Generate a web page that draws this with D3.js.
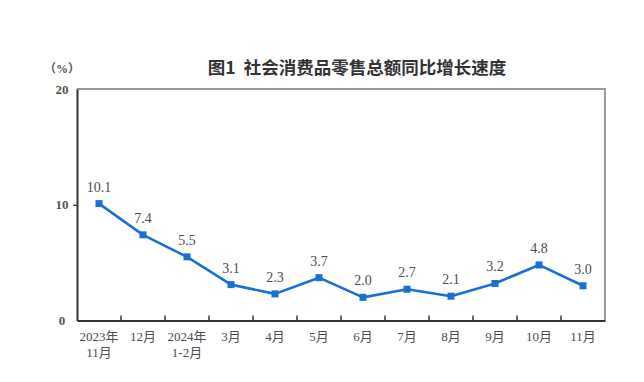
<!DOCTYPE html>
<html><head><meta charset="utf-8">
<script src="https://cdn.jsdelivr.net/npm/d3@7"></script>
<style>
body{margin:0;background:#fff;}
svg{display:block;}
</style></head>
<body>
<svg id="c" width="644" height="382"></svg>
<script>
const categories = ["2023年\n11月","12月","2024年\n1-2月","3月","4月","5月","6月","7月","8月","9月","10月","11月"];
const values = [10.1, 7.4, 5.5, 3.1, 2.3, 3.7, 2.0, 2.7, 2.1, 3.2, 4.8, 3.0];
const yTicks = [0, 10, 20];
const title = "图1  社会消费品零售总额同比增长速度";
const unit = "（%）";

const svg = d3.select("#c");
const L = 77, R = 605, T = 89, B = 320.5;
const x = d3.scaleBand().domain(categories).range([L, R]);
const y = d3.scaleLinear().domain([0, 20]).range([B, T]);
const serif = "'Liberation Serif','Times New Roman','Noto Sans CJK SC',serif";
const txtColor = "#555";

// frame (top/right grey)
svg.append("path")
  .attr("d", `M${L},${T}H${R}V${B}`)
  .attr("fill","none").attr("stroke","#9a9a9a").attr("stroke-width",2);

// left axis
const yAxis = d3.axisLeft(y).tickValues(yTicks).tickSize(4).tickSizeOuter(0).tickPadding(8);
const ya = svg.append("g").attr("transform",`translate(${L},0)`).call(yAxis);
ya.select(".domain").attr("stroke","#333").attr("stroke-width",2);
ya.selectAll(".tick line").attr("stroke","#333").attr("stroke-width",1.2)
  .filter(d => d===0 || d===20).remove();
ya.selectAll(".tick text").attr("font-family",serif).attr("font-size",13)
  .attr("font-weight","bold").attr("fill",txtColor).attr("text-anchor","middle").attr("x",-15);

// bottom axis
const xa = svg.append("g").attr("transform",`translate(0,${B})`)
  .call(d3.axisBottom(x).tickSize(0).tickSizeOuter(0).tickPadding(10));
xa.select(".domain").attr("stroke","#333").attr("stroke-width",2);
xa.selectAll(".tick text").remove();
xa.selectAll(".tick").each(function(d){
  const t = d3.select(this).append("text")
    .attr("font-family",serif).attr("font-size",13)
    .attr("fill","#4d4d4d").attr("text-anchor","middle").attr("y",20);
  d.split("\n").forEach((s,i)=>{
    t.append("tspan").attr("x",0).attr("dy", i===0?0:16).text(s);
  });
});
// inward tick marks at band boundaries
const bounds = categories.slice(1).map(c => x(c));
svg.append("g").selectAll("line").data(bounds).join("line")
  .attr("x1",d=>d).attr("x2",d=>d).attr("y1",B).attr("y2",B-5)
  .attr("stroke","#333").attr("stroke-width",1.5);

// line
const cx = (c) => x(c) + x.bandwidth()/2;
const pts = categories.map((c,i)=>({c, v: values[i]}));
svg.append("path").datum(pts)
  .attr("fill","none").attr("stroke","#1a6fd4").attr("stroke-width",2.6)
  .attr("stroke-linejoin","round")
  .attr("d", d3.line().x(d=>cx(d.c)).y(d=>y(d.v)));
svg.append("g").selectAll("rect").data(pts).join("rect")
  .attr("x",d=>cx(d.c)-3.5).attr("y",d=>y(d.v)-3.5)
  .attr("width",7).attr("height",7).attr("fill","#1a6fd4");
svg.append("g").selectAll("text").data(pts).join("text")
  .attr("x",d=>cx(d.c)).attr("y",d=>y(d.v)-12)
  .attr("text-anchor","middle").attr("font-family",serif).attr("font-size",14)
  .attr("fill","#4d4d4d").text(d=>d.v.toFixed(1));

// title & unit
svg.append("text").attr("x",357).attr("y",74).attr("text-anchor","middle")
  .attr("font-family","'Noto Sans CJK SC',sans-serif").attr("font-weight","bold")
  .attr("font-size",17.5).attr("fill","#333").attr("xml:space","preserve").text(title);
svg.append("text").attr("x",62).attr("y",73).attr("text-anchor","middle")
  .attr("font-family",serif).attr("font-size",12).attr("font-weight","bold")
  .attr("fill",txtColor).text(unit);
</script>
</body></html>
